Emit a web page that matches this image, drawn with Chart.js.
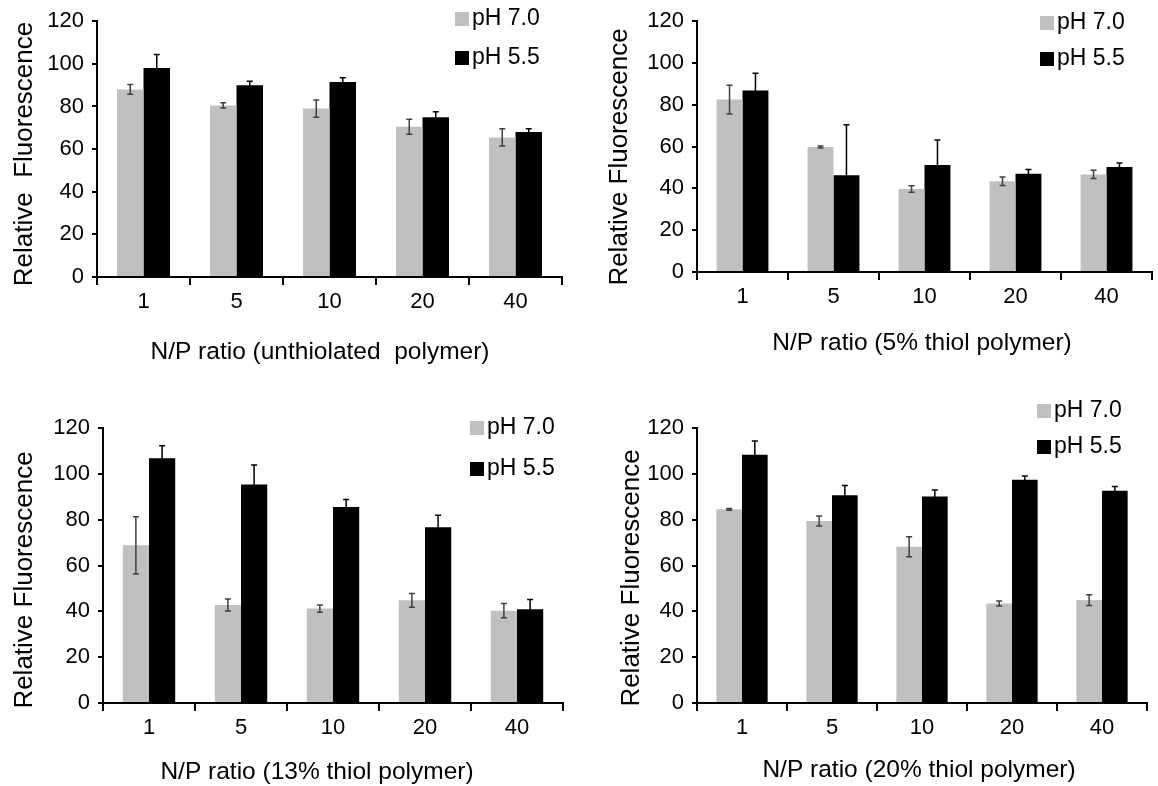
<!DOCTYPE html>
<html>
<head>
<meta charset="utf-8">
<script src="https://cdn.jsdelivr.net/npm/chart.js@4.4.1/dist/chart.umd.min.js"></script>
<style>
  html, body { margin: 0; padding: 0; background: #fff; overflow: hidden; }
  .panel { position: absolute; }
</style>
</head>
<body>
<canvas id="chartUnthiolated" class="panel" style="left:0;top:0"></canvas>
<canvas id="chartThiol5" class="panel" style="left:579px;top:0"></canvas>
<canvas id="chartThiol13" class="panel" style="left:0;top:393px"></canvas>
<canvas id="chartThiol20" class="panel" style="left:579px;top:393px"></canvas>
<script>
const npRatios = ["1", "5", "10", "20", "40"];
const yTicks = [0, 20, 40, 60, 80, 100, 120];
const seriesNames = ["pH 7.0", "pH 5.5"];

// unthiolated polymer
const unthiolatedPh70 = [88, 80.5, 79, 70.5, 65.5];
const unthiolatedPh70Err = [2.3, 1.2, 4, 3.5, 4];
const unthiolatedPh55 = [98, 90, 91.5, 75, 68];
const unthiolatedPh55Err = [6.4, 1.8, 2, 2.5, 1.5];

// 5% thiol polymer
const thiol5Ph70 = [82.5, 59.8, 39.7, 43.4, 46.7];
const thiol5Ph70Err = [6.9, 0.5, 1.6, 2, 2];
const thiol5Ph55 = [86.8, 46.3, 51.2, 47, 50.2];
const thiol5Ph55Err = [8.3, 24.2, 12, 2, 2];

// 13% thiol polymer
const thiol13Ph70 = [68.8, 42.8, 41.2, 44.8, 40.3];
const thiol13Ph70Err = [12.5, 2.6, 1.6, 3, 3.1];
const thiol13Ph55 = [106.8, 95.4, 85.5, 76.7, 40.9];
const thiol13Ph55Err = [5.5, 8.5, 3.3, 5.2, 4.3];

// 20% thiol polymer
const thiol20Ph70 = [84.5, 79.4, 68.2, 43.4, 44.9];
const thiol20Ph70Err = [0.4, 2.2, 4.4, 1.1, 2.3];
const thiol20Ph55 = [108.3, 90.7, 90.1, 97.4, 92.6];
const thiol20Ph55Err = [6, 4.2, 2.9, 1.7, 1.9];

const FONT = "'Liberation Sans', Arial, sans-serif";

// error bars drawn over each bar
const errorBarPlugin = {
    id: "errorBars",
    afterDatasetsDraw(chart) {
        const ctx = chart.ctx;
        const yScale = chart.scales.y;
        chart.data.datasets.forEach((ds, i) => {
            const meta = chart.getDatasetMeta(i);
            ctx.save();
            ctx.strokeStyle = ds.errorColor;
            ctx.lineWidth = 1.5;
            meta.data.forEach((bar, j) => {
                const v = ds.data[j], e = ds.errors[j];
                const yTop = yScale.getPixelForValue(v + e);
                const yBot = yScale.getPixelForValue(v - e);
                ctx.beginPath();
                ctx.moveTo(bar.x, yTop);
                ctx.lineTo(bar.x, yBot);
                ctx.moveTo(bar.x - 3, yTop);
                ctx.lineTo(bar.x + 3, yTop);
                ctx.moveTo(bar.x - 3, yBot);
                ctx.lineTo(bar.x + 3, yBot);
                ctx.stroke();
            });
            ctx.restore();
        });
    }
};

// legend + axis titles at fixed spots, like the original figure
const panelTextPlugin = {
    id: "panelText",
    afterDraw(chart, args, opts) {
        const ctx = chart.ctx;
        ctx.save();
        ctx.textBaseline = "middle";
        ctx.fillStyle = "#000";
        ctx.font = "23px " + FONT;
        chart.data.datasets.forEach((ds, i) => {
            const cy = opts.legendRows[i];
            ctx.fillStyle = ds.backgroundColor;
            ctx.fillRect(opts.legendX, cy - 7, 14, 14);
            ctx.fillStyle = "#000";
            ctx.textAlign = "left";
            ctx.fillText(ds.label, opts.legendX + 17, cy);
        });
        ctx.textAlign = "center";
        ctx.font = "24.5px " + FONT;
        ctx.fillText(opts.xTitle, opts.xTitlePos[0], opts.xTitlePos[1]);
        ctx.font = "26px " + FONT;
        ctx.translate(opts.yTitlePos[0], opts.yTitlePos[1]);
        ctx.rotate(-Math.PI / 2);
        ctx.fillText(opts.yTitle, 0, 0);
        ctx.restore();
    }
};

function buildPanel(canvasId, box, text, ph70, ph70Err, ph55, ph55Err) {
    const el = document.getElementById(canvasId);
    el.width = 579;
    el.height = 393;
    new Chart(el.getContext("2d"), {
        type: "bar",
        data: {
            labels: npRatios,
            datasets: [{
                label: seriesNames[0],
                data: ph70,
                errors: ph70Err,
                backgroundColor: "#c0c0c0",
                errorColor: "#404040",
                borderWidth: 0
            }, {
                label: seriesNames[1],
                data: ph55,
                errors: ph55Err,
                backgroundColor: "#000000",
                errorColor: "#000000",
                borderWidth: 0
            }]
        },
        options: {
            responsive: false,
            animation: false,
            devicePixelRatio: 1,
            datasets: { bar: { categoryPercentage: 0.57, barPercentage: 1.0 } },
            layout: { padding: { top: box.top, right: box.right, left: 0, bottom: 0 } },
            plugins: {
                legend: { display: false },
                tooltip: { enabled: false },
                panelText: text
            },
            scales: {
                x: {
                    grid: { display: true, drawOnChartArea: false, offset: true, tickLength: 8, color: "#000", lineWidth: 2 },
                    border: { color: "#000", width: 2 },
                    ticks: { color: "#000", font: { family: FONT, size: 22 }, padding: 4, maxRotation: 0 },
                    afterFit: s => { s.height = box.xHeight; }
                },
                y: {
                    min: 0,
                    max: 120,
                    grid: { display: true, drawOnChartArea: false, tickLength: 5, color: "#000", lineWidth: 2 },
                    border: { color: "#000", width: 2 },
                    ticks: { color: "#000", font: { family: FONT, size: 22 }, padding: 8 },
                    afterBuildTicks: s => { s.ticks = yTicks.map(v => ({ value: v })); },
                    afterFit: s => { s.width = box.left; }
                }
            }
        },
        plugins: [errorBarPlugin, panelTextPlugin]
    });
}

buildPanel("chartUnthiolated",
    { left: 97, top: 14, right: 17, xHeight: 116 },
    { legendX: 455, legendRows: [19, 58], xTitle: "N/P ratio (unthiolated  polymer)", xTitlePos: [320, 352],
      yTitle: "Relative  Fluorescence", yTitlePos: [25, 154] },
    unthiolatedPh70, unthiolatedPh70Err, unthiolatedPh55, unthiolatedPh55Err);

buildPanel("chartThiol5",
    { left: 118, top: 20, right: 6, xHeight: 121 },
    { legendX: 461, legendRows: [23, 59], xTitle: "N/P ratio (5% thiol polymer)", xTitlePos: [343, 343],
      yTitle: "Relative Fluorescence", yTitlePos: [41, 157] },
    thiol5Ph70, thiol5Ph70Err, thiol5Ph55, thiol5Ph55Err);

buildPanel("chartThiol13",
    { left: 103, top: 35, right: 16, xHeight: 83 },
    { legendX: 470, legendRows: [35, 76], xTitle: "N/P ratio (13% thiol polymer)", xTitlePos: [317, 379],
      yTitle: "Relative Fluorescence", yTitlePos: [25, 187] },
    thiol13Ph70, thiol13Ph70Err, thiol13Ph55, thiol13Ph55Err);

buildPanel("chartThiol20",
    { left: 118, top: 35, right: 11, xHeight: 83 },
    { legendX: 458, legendRows: [18, 54], xTitle: "N/P ratio (20% thiol polymer)", xTitlePos: [340, 377],
      yTitle: "Relative Fluorescence", yTitlePos: [53, 185] },
    thiol20Ph70, thiol20Ph70Err, thiol20Ph55, thiol20Ph55Err);
</script>
</body>
</html>
